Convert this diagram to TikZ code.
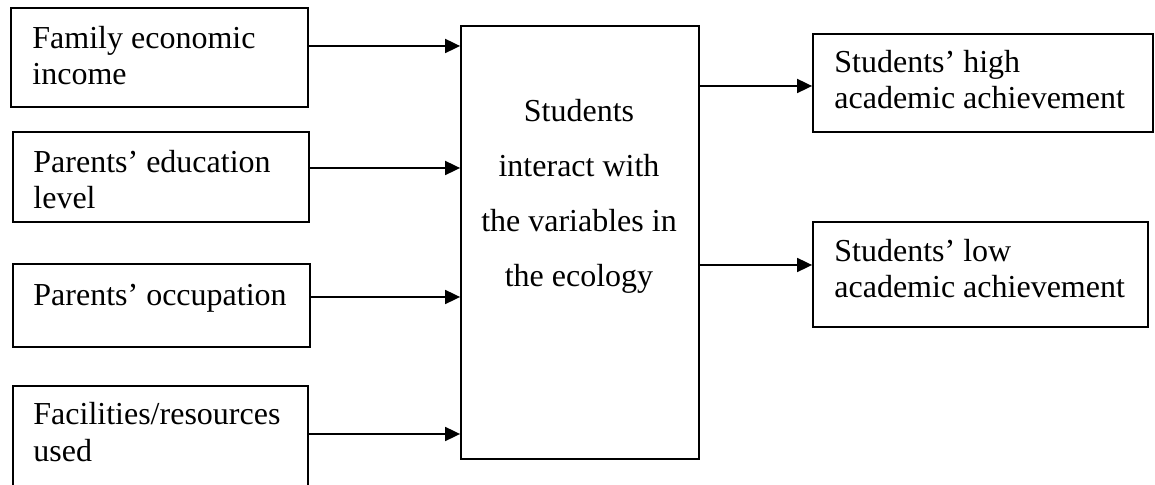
\documentclass[tikz,border=0pt]{standalone}
\usepackage{fontspec}
\setmainfont{Liberation Serif}
\usetikzlibrary{fit,arrows.meta}
\begin{document}
\begin{tikzpicture}[x=0.5pt,y=-0.5pt,
  box/.style={draw,line width=0.9pt,inner sep=0pt},
  txt/.style={anchor=base west,inner sep=0pt,font=\fontsize{16}{18}\selectfont},
  ctxt/.style={anchor=base,inner sep=0pt,font=\fontsize{16}{27.5}\selectfont},
  arr/.style={line width=0.9pt,-{Triangle[length=7.5pt,width=7pt]}}]
\useasboundingbox (0,0) rectangle (1155,485);
\clip (0,0) rectangle (1155,485);
% box corners
\coordinate (b1a) at (11,8);   \coordinate (b1b) at (308,107);
\coordinate (b2a) at (13,132); \coordinate (b2b) at (309,222);
\coordinate (b3a) at (13,264); \coordinate (b3b) at (310,347);
\coordinate (b4a) at (13,386); \coordinate (b4b) at (308,500);
\coordinate (ca) at (461,26);  \coordinate (cb) at (699,459);
\coordinate (r1a) at (813,34); \coordinate (r1b) at (1153,132);
\coordinate (r2a) at (813,222);\coordinate (r2b) at (1148,327);
\node[box,fit=(b1a)(b1b)] (b1) {};
\node[box,fit=(b2a)(b2b)] (b2) {};
\node[box,fit=(b3a)(b3b)] (b3) {};
\node[box,fit=(b4a)(b4b)] (b4) {};
\node[box,fit=(ca)(cb)] (ctr) {};
\node[box,fit=(r1a)(r1b)] (r1) {};
\node[box,fit=(r2a)(r2b)] (r2) {};
% texts
\node[txt] (t1) at (32,49) {\begin{tabular}[t]{@{}l@{}}Family economic\\income\end{tabular}};
\node[txt] (t2) at (33,173) {\begin{tabular}[t]{@{}l@{}}Parents’ education\\level\end{tabular}};
\node[txt] (t3) at (33,306) {Parents’ occupation};
\node[txt] (t4) at (33,425) {\begin{tabular}[t]{@{}l@{}}Facilities/resources\\used\end{tabular}};
\node[txt] (t5) at (834,73) {\begin{tabular}[t]{@{}l@{}}Students’ high\\academic achievement\end{tabular}};
\node[txt] (t6) at (834,262) {\begin{tabular}[t]{@{}l@{}}Students’ low\\academic achievement\end{tabular}};
\node[ctxt] (tc) at (579,122) {\begin{tabular}[t]{@{}c@{}}Students\\interact with\\the variables in\\the ecology\end{tabular}};
% arrow levels
\coordinate (y1) at (0,46);
\coordinate (y2) at (0,168);
\coordinate (y3) at (0,297);
\coordinate (y4) at (0,434);
\coordinate (y5) at (0,86);
\coordinate (y6) at (0,265);
\draw[arr] (b1.east |- y1) -- (ctr.west |- y1);
\draw[arr] (b2.east |- y2) -- (ctr.west |- y2);
\draw[arr] (b3.east |- y3) -- (ctr.west |- y3);
\draw[arr] (b4.east |- y4) -- (ctr.west |- y4);
\draw[arr] (ctr.east |- y5) -- (r1.west |- y5);
\draw[arr] (ctr.east |- y6) -- (r2.west |- y6);
\end{tikzpicture}
\end{document}
